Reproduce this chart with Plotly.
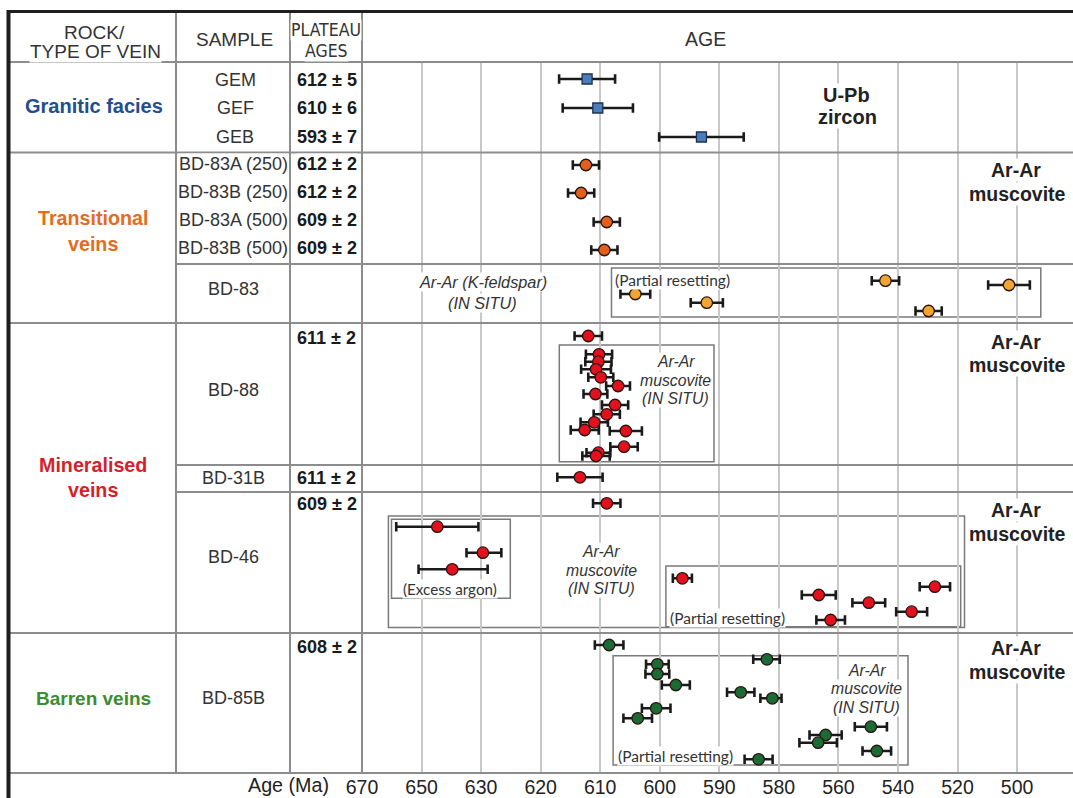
import numpy as np
import plotly.graph_objects as go

W, H = 1073, 798

# ---------------- DATA ----------------
# Age axis as printed (irregular steps between grid lines)
tick_ages = [670, 650, 630, 620, 610, 600, 590, 580, 560, 540, 520, 500]

# Granitic facies, U-Pb zircon
upb_samples = ["GEM", "GEF", "GEB"]
upb_plateau = ["612 ± 5", "610 ± 6", "593 ± 7"]
upb_age = [612.2, 610.4, 593.0]
upb_err = [4.7, 5.9, 7.1]

# Transitional veins, Ar-Ar muscovite plateau
tr_samples = ["BD-83A (250)", "BD-83B (250)", "BD-83A (500)", "BD-83B (500)"]
tr_plateau = ["612 ± 2", "612 ± 2", "609 ± 2", "609 ± 2"]
tr_age = [612.4, 613.2, 608.9, 609.3]
tr_err = [2.2, 2.2, 2.2, 2.2]

# BD-83 Ar-Ar K-feldspar in situ
kf_age = [604.1, 592.1, 544.2, 529.7, 502.7]
kf_err = [2.5, 2.7, 4.6, 4.4, 7.0]

# Mineralised veins
bd88_plateau_label = "611 ± 2"
bd88_plateau_age = [612.0]
bd88_plateau_err = [2.3]
bd88_age = [610.2, 610.3, 610.7, 609.9, 607.0, 610.8, 607.5, 608.9, 611.0, 612.6, 605.7, 606.0, 610.3, 610.7]
bd88_err = [2.2, 2.2, 2.5, 2.1, 2.0, 2.0, 2.2, 2.2, 2.3, 2.35, 2.7, 2.3, 2.0, 2.3]

bd31_plateau_label = "611 ± 2"
bd31_age = [613.4]
bd31_err = [3.8]

bd46_plateau_label = "609 ± 2"
bd46_plateau_age = [608.9]
bd46_plateau_err = [2.3]
bd46_excess_age = [644.7, 629.7, 639.7]
bd46_excess_err_old = [13.8, 5.2, 11.3]
bd46_excess_err_young = [13.8, 3.1, 10.8]
bd46_partial_age = [596.2, 566.6, 549.8, 527.6, 535.4, 562.6]
bd46_partial_err = [1.6, 5.7, 5.5, 5.1, 5.2, 4.8]

# Barren veins
bd85_plateau_label = "608 ± 2"
bd85_plateau_age = [608.5]
bd85_plateau_err = [2.4]
bd85_age = [600.4, 600.4, 597.3, 600.6, 603.7, 582.0, 586.4, 581.1, 564.3, 566.8, 549.1, 547.1, 583.4]
bd85_err = [1.9, 2.0, 2.35, 2.4, 2.4, 2.3, 2.3, 2.0, 5.4, 6.3, 5.4, 4.8, 2.35]

# ---------------- LAYOUT (pixel positions of rows / stacking) ----------------
PLOT_TOP, PLOT_BOTTOM = 62, 773
X_AGE0 = 362          # left edge of age column (first grid line)
GRID_PX = 59.55       # spacing of grid lines

upb_y = [79, 108, 137]
tr_y = [165, 193, 222, 250]
kf_y = [294, 302.7, 280.7, 311, 285]
bd88_plateau_y = [336]
bd88_y = [354.3, 361.7, 369.3, 377.3, 386, 394, 405, 414.3, 422.3, 430, 431, 446.7, 452.7, 456]
bd31_y = [477.3]
bd46_plateau_y = [503.3]
bd46_excess_y = [526.7, 552.7, 569.3]
bd46_partial_y = [578.3, 595, 602.7, 586.7, 611.7, 620]
bd85_plateau_y = [645]
bd85_y = [664.3, 674, 685, 708.3, 718.3, 659.3, 692.3, 698.3, 735, 742.7, 726.7, 751, 759.3]

FONT = "Liberation Sans, Arial, Helvetica, sans-serif"
NARROW = "Liberation Sans Narrow, Arial Narrow, DejaVu Sans Condensed, sans-serif"
BOXFONT = "Lato, Open Sans, sans-serif"

C_BLUE = "#1F4E91"
C_ORANGE = "#E46C1F"
C_RED = "#D71F2B"
C_GREEN = "#3C8C30"

tick_idx = np.arange(len(tick_ages), dtype=float)


def age_to_axis(a):
    a = np.asarray(a, float)
    t = -np.asarray(tick_ages, float)
    v = -a
    x = np.interp(v, t, tick_idx)
    x = np.where(v < t[0], (v - t[0]) / (t[1] - t[0]), x)
    x = np.where(v > t[-1], tick_idx[-1] + (v - t[-1]) / (t[-1] - t[-2]), x)
    return x


def px(xp):
    return xp / W


def py(yp):
    return (PLOT_BOTTOM - yp) / (PLOT_BOTTOM - PLOT_TOP)


fig = go.Figure()


def add_points(ages, err_old, err_young, ys, fill, symbol="circle", size=11.5, line="#2a1410"):
    x = age_to_axis(ages)
    x_lo = age_to_axis(np.asarray(ages) + np.asarray(err_old))
    x_hi = age_to_axis(np.asarray(ages) - np.asarray(err_young))
    fig.add_trace(go.Scatter(
        x=x, y=ys, mode="markers",
        marker=dict(symbol=symbol, size=size, color=fill, line=dict(color=line, width=1.3)),
        error_x=dict(type="data", symmetric=False, array=x_hi - x, arrayminus=x - x_lo,
                     color="#1a1a1a", thickness=2.6, width=4.8),
        showlegend=False, hoverinfo="skip", cliponaxis=False,
    ))


add_points(upb_age, upb_err, upb_err, upb_y, "#4A7EBB", symbol="square", size=10, line="#1F3050")
add_points(tr_age, tr_err, tr_err, tr_y, "#E2601B")
add_points(kf_age, kf_err, kf_err, kf_y, "#F2A531")
add_points(bd88_plateau_age, bd88_plateau_err, bd88_plateau_err, bd88_plateau_y, "#E3101E")
add_points(bd88_age, bd88_err, bd88_err, bd88_y, "#E3101E")
add_points(bd31_age, bd31_err, bd31_err, bd31_y, "#E3101E")
add_points(bd46_plateau_age, bd46_plateau_err, bd46_plateau_err, bd46_plateau_y, "#E3101E")
add_points(bd46_excess_age, bd46_excess_err_old, bd46_excess_err_young, bd46_excess_y, "#E3101E")
add_points(bd46_partial_age, bd46_partial_err, bd46_partial_err, bd46_partial_y, "#E3101E")
add_points(bd85_plateau_age, bd85_plateau_err, bd85_plateau_err, bd85_plateau_y, "#1B6B35")
add_points(bd85_age, bd85_err, bd85_err, bd85_y, "#1B6B35")

shapes = []


def hline(y, x0, x1, color="#8C8C8C", w=2):
    shapes.append(dict(type="line", xref="paper", yref="paper", x0=px(x0), x1=px(x1),
                       y0=py(y), y1=py(y), line=dict(color=color, width=w), layer="above"))


def vline(x, y0, y1, color="#8C8C8C", w=2):
    shapes.append(dict(type="line", xref="paper", yref="paper", x0=px(x), x1=px(x),
                       y0=py(y0), y1=py(y1), line=dict(color=color, width=w), layer="above"))


def box(x0, y0, x1, y1):
    shapes.append(dict(type="rect", xref="paper", yref="paper", x0=px(x0), x1=px(x1),
                       y0=py(y0), y1=py(y1), line=dict(color="#7A7A7A", width=1.5),
                       fillcolor="rgba(0,0,0,0)", layer="below"))


# table grid
hline(62, 8, W)
hline(152.5, 8, W)
hline(264, 176, W)
hline(323, 8, W)
hline(465, 176, W)
hline(492, 176, W)
hline(633, 8, W)
hline(773, 8, W)
vline(176, 11, 773)
vline(290, 11, 773)
vline(362, 11, 773)
hline(11.5, 8, W, color="#1E1E1E", w=3)
vline(8.5, 10, H, color="#1E1E1E", w=4)

# sub-boxes
box(611.5, 268, 1040.8, 317)
box(559.3, 345, 714, 461.7)
box(388.4, 516, 964.5, 627.5)
box(391.5, 519.3, 510.3, 598.3)
box(665.9, 566, 960.7, 626.7)
box(613.1, 655.7, 908, 765)

annotations = []


def text(s, x, y, size=18, color="#333333", bold=False, italic=False, family=FONT,
         xanchor="center", bg="white"):
    if bold:
        s = "<b>" + s + "</b>"
    if italic:
        s = "<i>" + s + "</i>"
    annotations.append(dict(text=s, x=px(x), y=py(y), xref="paper", yref="paper",
                            xanchor=xanchor, yanchor="middle", showarrow=False,
                            font=dict(family=family, size=size, color=color),
                            bgcolor=bg, borderpad=0))


# header
text("ROCK/", 94.5, 33, size=19)
text("TYPE OF VEIN", 95, 51, size=19)
text("SAMPLE", 234, 39, size=19)
text("PLATEAU", 326, 30, size=17.5, family=NARROW)
text("AGES", 326, 51, size=17.5, family=NARROW)
text("AGE", 705, 39, size=19.5)

# group names
text("Granitic facies", 94, 106, size=20, color=C_BLUE, bold=True)
text("Transitional", 93, 218, size=19.7, color=C_ORANGE, bold=True)
text("veins", 93, 244, size=19.7, color=C_ORANGE, bold=True)
text("Mineralised", 93, 465, size=19.7, color=C_RED, bold=True)
text("veins", 93, 490, size=19.7, color=C_RED, bold=True)
text("Barren veins", 93, 698, size=19, color=C_GREEN, bold=True)

# sample column and plateau ages
for s, lab, y in zip(upb_samples, upb_plateau, [80, 108, 137]):
    text(s, 235, y)
    text(lab, 326.5, y, size=18, bold=True, color="#1a1a1a")
for s, lab, y in zip(tr_samples, tr_plateau, [164, 192, 220, 248]):
    text(s, 233, y)
    text(lab, 326.5, y, size=18, bold=True, color="#1a1a1a")
text("BD-83", 233, 289)
text("BD-88", 233, 390)
text(bd88_plateau_label, 326.5, 338, size=18, bold=True, color="#1a1a1a")
text("BD-31B", 233, 478)
text(bd31_plateau_label, 326.5, 478, size=18, bold=True, color="#1a1a1a")
text("BD-46", 233, 557)
text(bd46_plateau_label, 326.5, 504, size=18, bold=True, color="#1a1a1a")
text("BD-85B", 233, 698)
text(bd85_plateau_label, 326.5, 647, size=18, bold=True, color="#1a1a1a")

# method labels
text("U-Pb", 846, 95, size=20, bold=True, color="#222222")
text("zircon", 847, 117, size=20, bold=True, color="#222222")
for y0 in (170, 341.7, 510, 648.3):
    text("Ar-Ar", 1016, y0, size=19.5, bold=True, color="#222222")
    text("muscovite", 1017, y0 + 23.5, size=19.5, bold=True, color="#222222")

text("Ar-Ar (K-feldspar)", 482.5, 281.5, size=16.3, italic=True, color="#333333")
text("(IN SITU)", 482, 303, size=16.3, italic=True, color="#333333")
for cx, y0 in ((675.5, 361.7), (601, 551.7), (866.5, 670)):
    text("Ar-Ar", cx, y0, size=15.8, italic=True, color="#333333")
    text("muscovite", cx, y0 + 18.5, size=15.8, italic=True, color="#333333")
    text("(IN SITU)", cx, y0 + 37, size=15.8, italic=True, color="#333333")

text("(Partial resetting)", 614, 280, size=15.5, family=BOXFONT, xanchor="left", color="#333333")
text("(Partial resetting)", 669, 617.5, size=15.5, family=BOXFONT, xanchor="left", color="#333333")
text("(Partial resetting)", 617, 755.5, size=15.5, family=BOXFONT, xanchor="left", color="#333333")
text("(Excess argon)", 449.5, 589, size=15.2, family=BOXFONT, color="#333333")

# axis title
text("Age (Ma)", 288, 785, size=19.7, color="#222222", bg="rgba(0,0,0,0)")

fig.update_layout(
    width=W, height=H,
    margin=dict(l=0, r=0, t=PLOT_TOP, b=H - PLOT_BOTTOM, pad=0),
    paper_bgcolor="white", plot_bgcolor="white",
    shapes=shapes, annotations=annotations,
    xaxis=dict(domain=[X_AGE0 / W, 1], range=[0, (W - X_AGE0) / GRID_PX],
               tickmode="array", tickvals=tick_idx, ticktext=[str(a) for a in tick_ages],
               showgrid=True, gridcolor="#C8C8C8", gridwidth=1.5, zeroline=False,
               showline=False, ticks="", automargin=False,
               tickfont=dict(family=FONT, size=19.5, color="#222222"), fixedrange=True),
    yaxis=dict(range=[PLOT_BOTTOM, PLOT_TOP], visible=False, showgrid=False,
               zeroline=False, fixedrange=True),
    showlegend=False,
)

fig.write_html("out.html", post_script="document.body.style.margin='0';",
               config={"displayModeBar": False})
